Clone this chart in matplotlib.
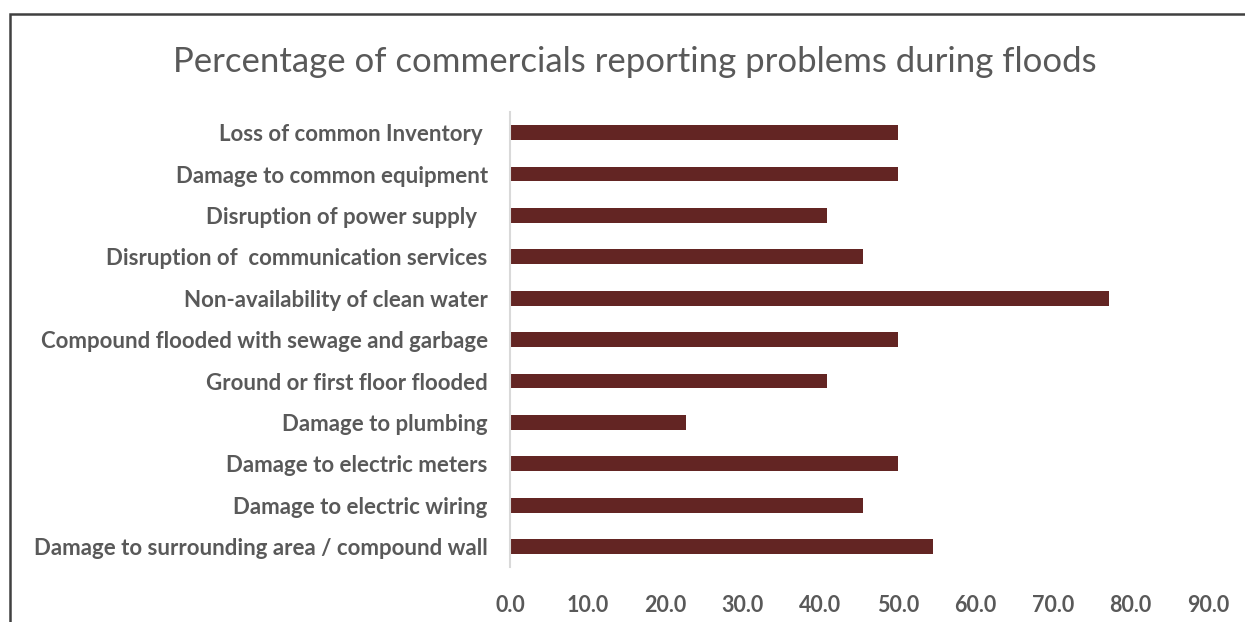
import matplotlib.pyplot as plt
from matplotlib.patches import Rectangle

# categories, bottom to top
categories = [
    "Damage to surrounding area / compound wall",
    "Damage to electric wiring",
    "Damage to electric meters",
    "Damage to plumbing",
    "Ground or first floor flooded",
    "Compound flooded with sewage and garbage",
    "Non-availability of clean water",
    "Disruption of  communication services",
    "Disruption of power supply  ",
    "Damage to common equipment",
    "Loss of common Inventory ",
]
values = [54.5, 45.5, 50.0, 22.7, 40.9, 50.0, 77.3, 45.5, 40.9, 50.0, 50.0]
xticks = [0, 10, 20, 30, 40, 50, 60, 70, 80, 90]

plt.rcParams['font.family'] = ['Lato', 'DejaVu Sans']
grey = '#595959'

fig = plt.figure(figsize=(12.45, 6.22), dpi=100)
ax = fig.add_axes([0.4096, 0.088, 0.5606, 0.732])

y = list(range(len(categories)))
ax.barh(y, values, height=0.36, color='#632523')

ax.set_xlim(0, 90)
ax.set_ylim(-0.5, len(categories) - 0.5)
ax.set_xticks(xticks)
ax.set_xticklabels([f"{t:.1f}" for t in xticks], fontsize=15.5, fontweight='bold', color=grey)
ax.set_yticks(y)
ax.set_yticklabels(categories, fontsize=16, fontweight='bold', color=grey)
ax.tick_params(axis='both', length=0)
ax.tick_params(axis='x', pad=20)
ax.tick_params(axis='y', pad=16)

for s in ['top', 'right', 'bottom']:
    ax.spines[s].set_visible(False)
ax.spines['left'].set_color('#d9d9d9')
ax.spines['left'].set_linewidth(1.5)

fig.text(0.51, 0.90, "Percentage of commercials reporting problems during floods",
         ha='center', va='center', fontsize=25, color=grey)

# outer frame (only top and left visible in the crop)
fig.patches.append(Rectangle((10 / 1245, -0.1), 1.2, 1 - 13.5 / 622 + 0.1,
                             transform=fig.transFigure, fill=False,
                             edgecolor='#404040', linewidth=1.8))

fig.savefig("out.png", dpi=100)
